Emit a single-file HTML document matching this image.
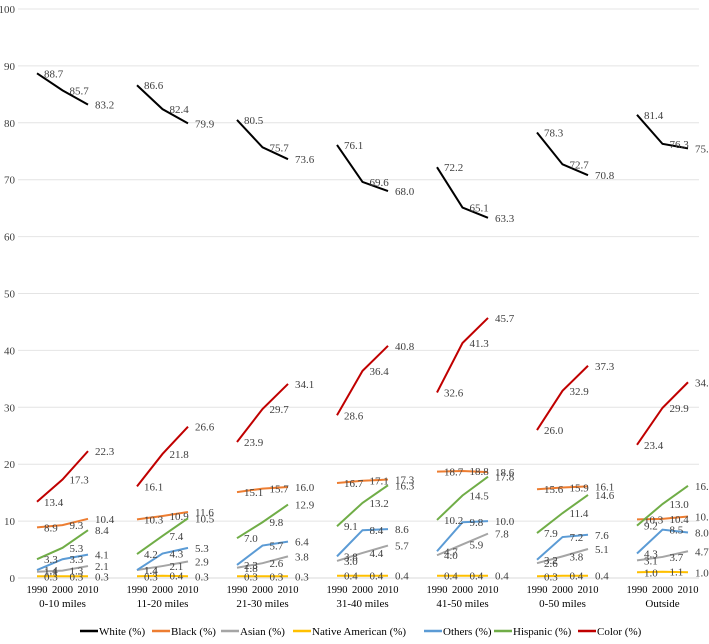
<!DOCTYPE html>
<html><head><meta charset="utf-8"><style>
body{margin:0;background:#fff;}
svg{font-family:"Liberation Serif",serif;}
</style></head><body>
<svg id="chart" width="709" height="639" viewBox="0 0 709 639" xmlns="http://www.w3.org/2000/svg">
<g id="grid"></g><g id="ylabels"></g><g id="series"></g><g id="xlabels"></g><g id="legend"></g>
</svg>
<script>
const groups=["0-10 miles","11-20 miles","21-30 miles","31-40 miles","41-50 miles","0-50 miles","Outside"];
const years=["1990","2000","2010"];
const yTicks=[0,10,20,30,40,50,60,70,80,90,100];
const seriesNames=["White (%)","Black (%)","Asian (%)","Native American (%)","Others (%)","Hispanic (%)","Color (%)"];
const colors=["#000000","#ed7d31","#a5a5a5","#ffc000","#5b9bd5","#70ad47","#c00000"];
const white=[88.7,85.7,83.2,86.6,82.4,79.9,80.5,75.7,73.6,76.1,69.6,68.0,72.2,65.1,63.3,78.3,72.7,70.8,81.4,76.3,75.5];
const black=[8.9,9.3,10.4,10.3,10.9,11.6,15.1,15.7,16.0,16.7,17.1,17.3,18.7,18.8,18.6,15.6,15.9,16.1,10.3,10.4,10.8];
const asian=[1.1,1.3,2.1,1.4,2.1,2.9,1.8,2.6,3.8,3.0,4.4,5.7,4.0,5.9,7.8,2.6,3.8,5.1,3.1,3.7,4.7];
const native=[0.3,0.3,0.3,0.3,0.4,0.3,0.3,0.3,0.3,0.4,0.4,0.4,0.4,0.4,0.4,0.3,0.4,0.4,1.0,1.1,1.0];
const others=[1.4,3.3,4.1,1.4,4.3,5.3,2.3,5.7,6.4,3.8,8.4,8.6,4.7,9.8,10.0,3.2,7.2,7.6,4.3,8.5,8.0];
const hispanic=[3.3,5.3,8.4,4.2,7.4,10.5,7.0,9.8,12.9,9.1,13.2,16.3,10.2,14.5,17.8,7.9,11.4,14.6,9.2,13.0,16.2];
const color=[13.4,17.3,22.3,16.1,21.8,26.6,23.9,29.7,34.1,28.6,36.4,40.8,32.6,41.3,45.7,26.0,32.9,37.3,23.4,29.9,34.4];
const allSeries=[white,black,asian,native,others,hispanic,color];
const NS="http://www.w3.org/2000/svg";
const y=v=>578-v*5.69;
const x=(g,i)=>37+g*100+i*25.5;
function mk(tag,attrs,parent,text){const e=document.createElementNS(NS,tag);for(const k in attrs)e.setAttribute(k,attrs[k]);if(text!==undefined)e.textContent=text;parent.appendChild(e);return e;}
const grid=document.getElementById('grid'),yl=document.getElementById('ylabels');
yTicks.forEach(t=>{
  const l=mk('line',{x1:18,x2:699,y1:y(t),y2:y(t),stroke:t===0?'#d9d9d9':'#e4e4e4','stroke-width':1},grid);
  
  
  const tx=mk('text',{x:15,y:y(t)+4,'text-anchor':'end','font-size':11,fill:'#404040'},yl,String(t));
  
  
});
const sg=document.getElementById('series');
allSeries.forEach((vals,s)=>{
  for(let g=0;g<groups.length;g++){
    const pts=[0,1,2].map(i=>x(g,i)+','+y(vals[g*3+i])).join(' ');
    const pl=mk('polyline',{points:pts,fill:'none',stroke:colors[s],'stroke-width':2},sg);
    
    
    for(let i=0;i<3;i++){
      const v=vals[g*3+i];
      const t=mk('text',{x:x(g,i)+7,y:y(v)+4,'font-size':11,fill:'#404040'},sg,v.toFixed(1));
      
      
    }
  }
});
const xl=document.getElementById('xlabels');
groups.forEach((gname,g)=>{
  years.forEach((yr,i)=>{
    const t=mk('text',{x:x(g,i),y:593,'text-anchor':'middle','font-size':10.5,fill:'#000'},xl,yr);
    
    
  });
  const t=mk('text',{x:x(g,1),y:607,'text-anchor':'middle','font-size':11,fill:'#000'},xl,gname);
  
  
});
const lg=document.getElementById('legend');
const legX=[80,152,221,293,424,494,578];
seriesNames.forEach((n,s)=>{
  const lx=legX[s];
  const ln=mk('line',{x1:lx,x2:lx+18,y1:631,y2:631,stroke:colors[s],'stroke-width':2.5},lg);
  
  
  const t=mk('text',{x:lx+19,y:635,'font-size':11,fill:'#000'},lg,n);
  
  
});
</script>
</body></html>
